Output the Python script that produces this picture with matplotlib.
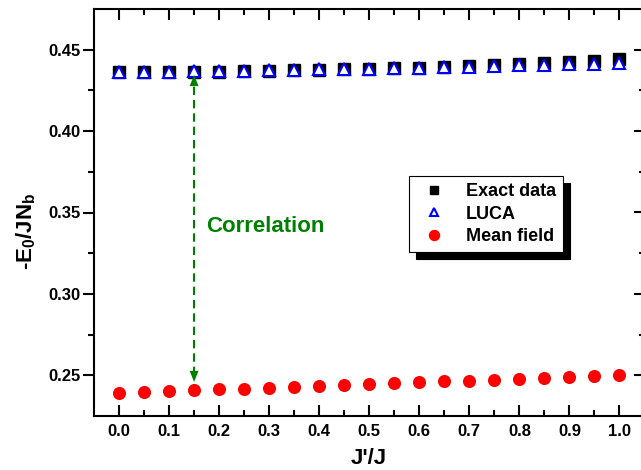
import matplotlib
matplotlib.use("Agg")
import matplotlib.pyplot as plt
from matplotlib.ticker import FixedLocator, FormatStrFormatter

plt.rcParams['font.family'] = ['Liberation Sans', 'DejaVu Sans']
plt.rcParams['font.weight'] = 'bold'
plt.rcParams['mathtext.fontset'] = 'custom'
plt.rcParams['mathtext.rm'] = 'Liberation Sans:bold'
plt.rcParams['mathtext.it'] = 'Liberation Sans:bold'
plt.rcParams['mathtext.bf'] = 'Liberation Sans:bold'
plt.rcParams['mathtext.default'] = 'rm'

# ---- data ----
jratio = [0.00, 0.05, 0.10, 0.15, 0.20, 0.25, 0.30, 0.35, 0.40, 0.45, 0.50,
          0.55, 0.60, 0.65, 0.70, 0.75, 0.80, 0.85, 0.90, 0.95, 1.00]
exact = [0.4360, 0.4361, 0.4362, 0.4364, 0.4366, 0.4368, 0.4370, 0.4373,
         0.4376, 0.4379, 0.4383, 0.4386, 0.4390, 0.4395, 0.4400, 0.4405,
         0.4411, 0.4417, 0.4424, 0.4432, 0.4440]
luca = [0.4362, 0.4364, 0.4366, 0.4368, 0.4370, 0.4372, 0.4374, 0.4376,
        0.4379, 0.4381, 0.4384, 0.4387, 0.4390, 0.4393, 0.4396, 0.4400,
        0.4403, 0.4407, 0.4410, 0.4414, 0.4418]
mean_field = [0.2394, 0.2398, 0.2406, 0.2410, 0.2414, 0.2418, 0.2424, 0.2430,
              0.2434, 0.2441, 0.2447, 0.2451, 0.2457, 0.2463, 0.2467, 0.2473,
              0.2477, 0.2484, 0.2488, 0.2494, 0.2500]
series_labels = ['Exact data', 'LUCA', 'Mean field']
arrow_x = 0.15
arrow_top = 0.4345
arrow_bottom = 0.2459
annot_text = 'Correlation'
x_ticks = [0.0, 0.1, 0.2, 0.3, 0.4, 0.5, 0.6, 0.7, 0.8, 0.9, 1.0]
x_minor = [0.05, 0.15, 0.25, 0.35, 0.45, 0.55, 0.65, 0.75, 0.85, 0.95]
y_ticks = [0.25, 0.30, 0.35, 0.40, 0.45]
y_minor = [0.275, 0.325, 0.375, 0.425]

W, H = 641, 470
fig = plt.figure(figsize=(W / 100, H / 100), dpi=100)
ax = fig.add_axes([94 / W, 1 - 416 / H, (644.5 - 94) / W, (416 - 9) / H])

ax.plot(jratio, exact, linestyle='none', marker='s', markersize=8.8,
        color='black', label=series_labels[0], zorder=3)
ax.plot(jratio, luca, linestyle='none', marker='^', markersize=8.6,
        markerfacecolor='white', markeredgecolor='#0000FF',
        markeredgewidth=1.5, label=series_labels[1], zorder=4)
ax.plot(jratio, mean_field, linestyle='none', marker='o', markersize=8.4,
        color='#FF0000', label=series_labels[2], zorder=3)

green = '#008000'
ax.plot([arrow_x, arrow_x], [arrow_bottom + 0.004, arrow_top - 0.004],
        color=green, lw=1.5, dashes=(4, 2.4), zorder=2)
for tip, start in ((arrow_top, arrow_top - 0.008), (arrow_bottom, arrow_bottom + 0.008)):
    ax.annotate('', xy=(arrow_x, tip), xytext=(arrow_x, start),
                arrowprops=dict(arrowstyle='-|>,head_length=0.8,head_width=0.32',
                                color=green, lw=0.01, mutation_scale=10,
                                shrinkA=0, shrinkB=0), zorder=5)
ax.text(0.1744, 0.3378, annot_text, color=green, fontsize=16,
        fontweight='bold', ha='left', va='baseline')

ax.set_xlim(-0.05, 1.05)
ax.set_ylim(0.225, 0.475)

ax.xaxis.set_major_locator(FixedLocator(x_ticks))
ax.xaxis.set_minor_locator(FixedLocator(x_minor))
ax.xaxis.set_major_formatter(FormatStrFormatter('%.1f'))
ax.yaxis.set_major_locator(FixedLocator(y_ticks))
ax.yaxis.set_minor_locator(FixedLocator(y_minor))
ax.yaxis.set_major_formatter(FormatStrFormatter('%.2f'))

ax.tick_params(axis='x', which='both', direction='in', top=True, bottom=True,
               width=1.5, labelsize=12, pad=6)
ax.tick_params(axis='x', which='major', length=8)
ax.tick_params(axis='x', which='minor', length=4.5)
ax.tick_params(axis='y', which='both', direction='out', left=True, right=False,
               width=1.5, labelsize=12, pad=1.5)
ax.tick_params(axis='y', which='major', length=8)
ax.tick_params(axis='y', which='minor', length=4.5)
for lab in ax.get_xticklabels() + ax.get_yticklabels():
    lab.set_fontweight('bold')

sec = ax.secondary_yaxis('right')
sec.yaxis.set_major_locator(FixedLocator(y_ticks))
sec.yaxis.set_minor_locator(FixedLocator(y_minor))
sec.tick_params(axis='y', which='both', direction='in', labelright=False, width=1.5)
sec.tick_params(axis='y', which='major', length=8)
sec.tick_params(axis='y', which='minor', length=4.5)
sec.spines['right'].set_linewidth(1.5)

for s in ax.spines.values():
    s.set_linewidth(1.5)

ax.set_xlabel("J'/J", fontsize=16, fontweight='bold')
ax.xaxis.set_label_coords(0.5, -0.079)
fig.text(26 / W, 1 - 231 / H, '-E$_0$/JN$_b$', rotation=90, fontsize=16,
         fontweight='bold', ha='center', va='center')

leg = ax.legend(loc='upper left', bbox_to_anchor=(409 / W, 1 - 176 / H),
                bbox_transform=fig.transFigure, borderaxespad=0,
                fancybox=False, framealpha=1, edgecolor='black',
                shadow={'ox': 5, 'oy': -5, 'color': 'black', 'alpha': 1},
                prop={'size': 13, 'weight': 'bold'}, numpoints=1,
                borderpad=0.4, handlelength=2.0, handletextpad=0.75,
                labelspacing=0.3)
leg.get_frame().set_linewidth(0.8)
for h, ms in zip(leg.legend_handles, (6.0, 5.5, 7.2)):
    h.set_markersize(ms)

fig.savefig('out.png', dpi=100)
